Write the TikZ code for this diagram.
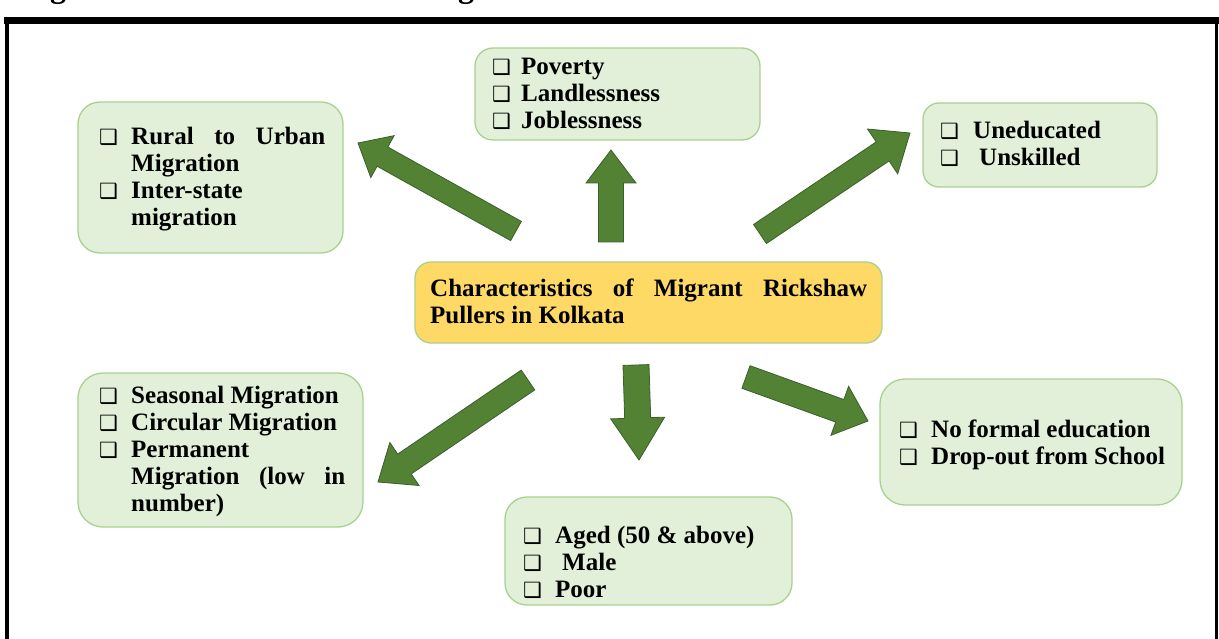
\documentclass[tikz,border=0pt]{standalone}
\usepackage{fontspec}
\setmainfont{Liberation Serif}
\newfontfamily\dvfont{DejaVu Sans}
\usetikzlibrary{calc}
\definecolor{boxfill}{HTML}{E2F0D9}
\definecolor{boxline}{HTML}{A9D18E}
\definecolor{ctrfill}{HTML}{FFD966}
\definecolor{arrfill}{HTML}{548235}
\definecolor{arrline}{HTML}{3B5E2B}
\newcommand\cbx[1]{\makebox[#1][l]{\raisebox{0pt}{\dvfont\fontsize{21}{21}\selectfont ❑}}}
\newcommand\barrow[5]{%
  \coordinate (#2-h) at ($(#2)!#5!(#1)$);
  \filldraw[arrowshape] ($(#1)!#3!90:(#2)$) -- ($(#2-h)!#3!-90:(#1)$) -- ($(#2-h)!#4!-90:(#1)$) -- (#2) -- ($(#2-h)!#4!90:(#1)$) -- ($(#2-h)!#3!90:(#1)$) -- ($(#1)!#3!-90:(#2)$) -- cycle;}
\begin{document}
\begin{tikzpicture}[x=1pt,y=-1pt,
  gbox/.style={draw=boxline, fill=boxfill, line width=1.3pt, inner sep=0pt},
  cbox/.style={draw=boxline, fill=ctrfill, line width=1.3pt, inner sep=0pt},
  txt/.style={anchor=base west, inner sep=0pt, font=\bfseries\fontsize{25}{27}\selectfont},
  arrowshape/.style={fill=arrfill, draw=arrline, line width=0.8pt, line join=miter},
  frameline/.style={draw=black, line cap=rect}]
\useasboundingbox (0,0) rectangle (1219,639);
% cut-off title
\begin{scope}
\clip (0,0) rectangle (1219,14);
\node[anchor=base west, inner sep=0pt, font=\bfseries\fontsize{32}{32}\selectfont] (title) at (2,-2) {Diagram 1: Characteristics of Migrant and Hand Pulled Rickshaw Pullers in Kolkata};
\end{scope}
% frame
\draw[frameline, line width=3.5pt] (7,21) -- (7,645);
\draw[frameline, line width=3.5pt] (1216.5,21) -- (1216.5,645);
\draw[frameline, line width=7pt] (7,21) -- (1216.5,21);
% boxes
\node[gbox, rounded corners=22pt, minimum width=265pt, minimum height=151pt] (tl) at (210.5,177.5) {};
\node[gbox, rounded corners=18pt, minimum width=285pt, minimum height=92pt] (tm) at (617.5,94) {};
\node[gbox, rounded corners=16pt, minimum width=234pt, minimum height=84pt] (tr) at (1040,145) {};
\node[cbox, rounded corners=16pt, minimum width=467pt, minimum height=81pt] (ctr) at (648.5,302.5) {};
\node[gbox, rounded corners=25pt, minimum width=285pt, minimum height=154pt] (bl) at (220.5,450) {};
\node[gbox, rounded corners=22pt, minimum width=287pt, minimum height=108pt] (bm) at (648.5,551) {};
\node[gbox, rounded corners=25pt, minimum width=302pt, minimum height=126pt] (br) at (1031,442) {};
% texts
\node[txt] (tltext) at (99,145) {\begin{tabular}[t]{@{}l@{}p{194pt}@{}}
\cbx{32pt} & Rural\hfill to\hfill Urban\newline Migration\\
\cbx{32pt} & Inter-state\newline migration
\end{tabular}};
\node[txt] (tmtext) at (492,75) {\begin{tabular}[t]{@{}l@{}p{230pt}@{}}
\cbx{29pt} & Poverty\\
\cbx{29pt} & Landlessness\\
\cbx{29pt} & Joblessness
\end{tabular}};
\node[txt] (trtext) at (940,139) {\begin{tabular}[t]{@{}l@{}p{180pt}@{}}
\cbx{33pt} & Uneducated\\
\cbx{33pt} & \hspace{6pt}Unskilled
\end{tabular}};
\node[txt] (ctrtext) at (430,297) {\begin{tabular}[t]{@{}p{437pt}@{}}
Characteristics\hfill of\hfill Migrant\hfill Rickshaw\newline Pullers in Kolkata
\end{tabular}};
\node[txt] (bltext) at (99,403) {\begin{tabular}[t]{@{}l@{}p{214pt}@{}}
\cbx{32pt} & Seasonal Migration\\
\cbx{32pt} & Circular Migration\\
\cbx{32pt} & Permanent\newline Migration\hfill (low\hfill in\newline number)
\end{tabular}};
\node[txt] (bmtext) at (523,543) {\begin{tabular}[t]{@{}l@{}p{230pt}@{}}
\cbx{32pt} & Aged (50 \& above)\\
\cbx{32pt} & \hspace{7pt}Male\\
\cbx{32pt} & Poor
\end{tabular}};
\node[txt] (brtext) at (899,437) {\begin{tabular}[t]{@{}l@{}p{250pt}@{}}
\cbx{32pt} & No formal education\\
\cbx{32pt} & Drop-out from School
\end{tabular}};
% arrows
\coordinate (a1t) at (516,231); \coordinate (a1p) at (358,143);
\coordinate (a2t) at (611,242); \coordinate (a2p) at (611,150);
\coordinate (a3t) at (760,234); \coordinate (a3p) at (910,133);
\coordinate (a4t) at (528,380); \coordinate (a4p) at (378,482);
\coordinate (a5t) at (636,365); \coordinate (a5p) at (639,460);
\coordinate (a6t) at (746,377); \coordinate (a6p) at (868,421);
\barrow{a1t}{a1p}{11pt}{24pt}{28pt}
\barrow{a2t}{a2p}{12.5pt}{25pt}{33pt}
\barrow{a3t}{a3p}{11.5pt}{27pt}{33pt}
\barrow{a4t}{a4p}{12pt}{26pt}{32pt}
\barrow{a5t}{a5p}{13pt}{27pt}{42pt}
\barrow{a6t}{a6p}{12pt}{26pt}{30pt}
\end{tikzpicture}
\end{document}
